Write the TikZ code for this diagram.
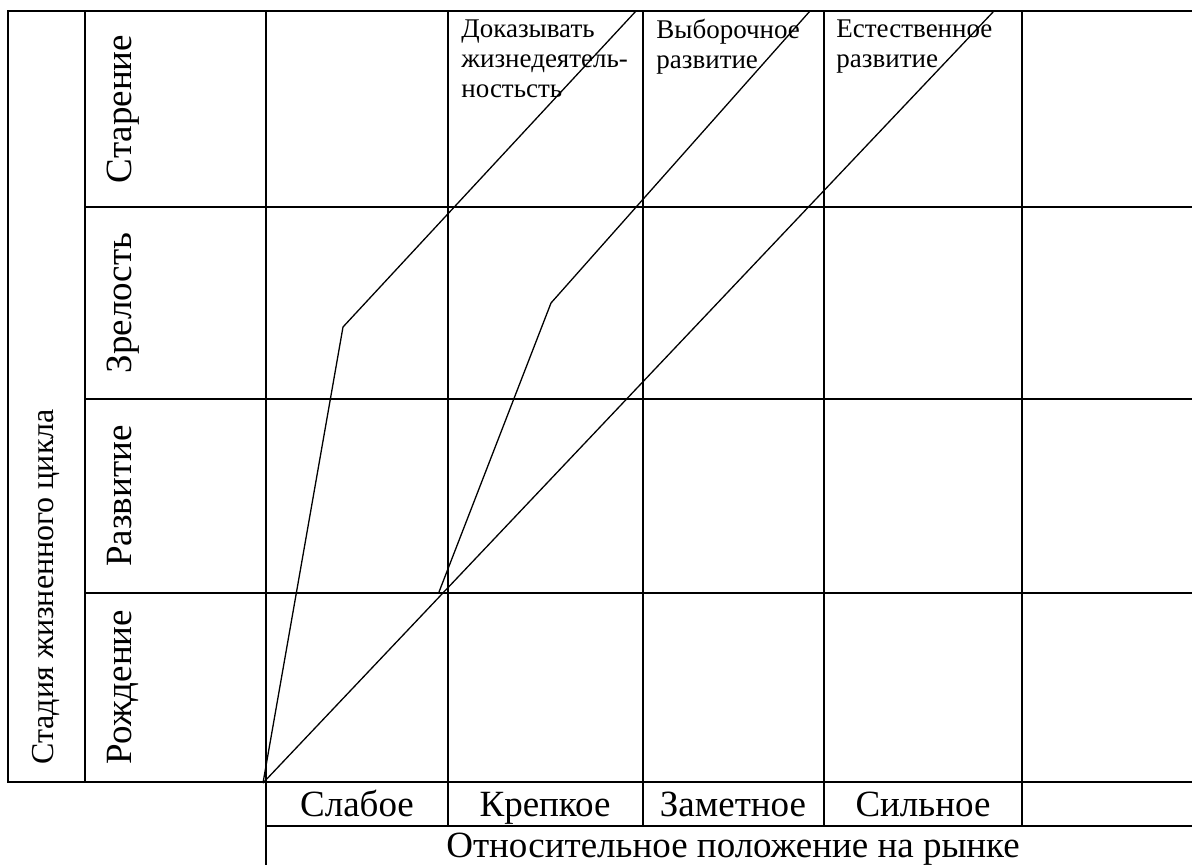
\documentclass[tikz,border=0pt]{standalone}
\usepackage{fontspec}
\setmainfont{Liberation Serif}
\begin{document}
\begin{tikzpicture}[x=0.5pt,y=-0.5pt,
  gridline/.style={line width=1.1pt, line cap=rect},
  curveline/.style={line width=0.65pt, line join=miter},
  rowlab/.style={rotate=90, anchor=base, font=\fontsize{18.5}{22}\selectfont, inner sep=0pt},
  stagelab/.style={rotate=90, anchor=base west, font=\fontsize{16}{19}\selectfont, inner sep=0pt},
  collab/.style={anchor=base, font=\fontsize{18.5}{22}\selectfont, inner sep=0pt},
  toplab/.style={anchor=north west, align=left, font=\fontsize{13.5}{15}\selectfont, inner sep=0pt}]
\useasboundingbox (0,0) rectangle (1192,865);
% grid
\draw[gridline] (8,11) -- (1192,11);
\foreach \yy in {207,399,593} \draw[gridline] (85,\yy) -- (1192,\yy);
\draw[gridline] (8,782) -- (1192,782);
\draw[gridline] (266,826) -- (1192,826);
\draw[gridline] (8,11) -- (8,782);
\draw[gridline] (85,11) -- (85,782);
\draw[gridline] (266,11) -- (266,865);
\foreach \xx in {448,643,824,1022} \draw[gridline] (\xx,11) -- (\xx,826);
% labels
\node[stagelab] (stage) at (53,765) {Стадия жизненного цикла};
\node[rowlab] (r1) at (131,109) {Старение};
\node[rowlab] (r2) at (131,303) {Зрелость};
\node[rowlab] (r3) at (131,496) {Развитие};
\node[rowlab] (r4) at (131,687) {Рождение};
\node[collab] (c1) at (357,816) {Слабое};
\node[collab] (c2) at (545,816) {Крепкое};
\node[collab] (c3) at (733,816) {Заметное};
\node[collab] (c4) at (923,816) {Сильное};
\node[collab] (pos) at (733,857) {Относительное положение на рынке};
\node[toplab] (t1) at (461,19) {Доказывать\\жизнедеятель-\\ностьсть};
\node[toplab] (t2) at (656,19) {Выборочное\\развитие};
\node[toplab] (t3) at (836,19) {Естественное\\развитие};
% curves
\coordinate (O) at (263,783);
\coordinate (A1) at (343,327);
\coordinate (A2) at (636,11);
\coordinate (B0) at (439,592);
\coordinate (B1) at (551,303);
\coordinate (B2) at (810,11);
\coordinate (C2) at (994,11);
\draw[curveline] (O) -- (A1) -- (A2);
\draw[curveline] (B0) -- (B1) -- (B2);
\draw[curveline] (O) -- (C2);
\end{tikzpicture}
\end{document}
